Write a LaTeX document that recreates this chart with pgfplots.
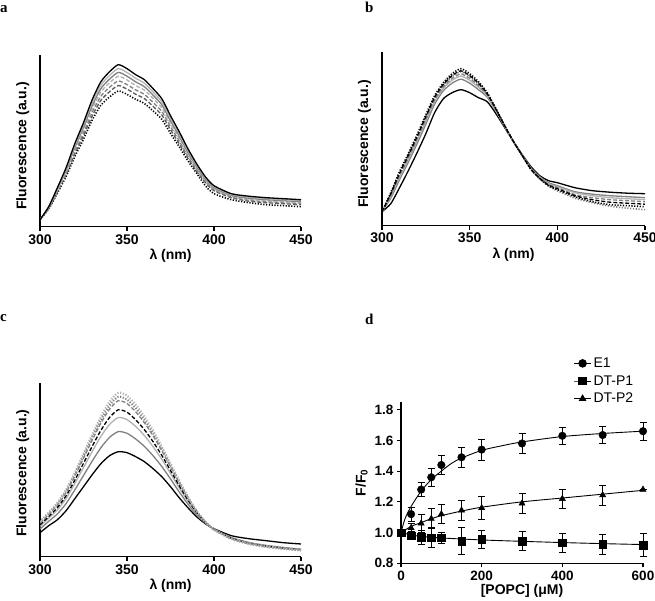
\documentclass[border=0pt]{standalone}
\usepackage{fontspec}
\setmainfont{Liberation Sans}
\newfontfamily\letterfont{Liberation Serif}
\usepackage{pgfplots}
\pgfplotsset{compat=1.18}
\usepackage{pgfplotstable}

\definecolor{lg}{gray}{0.70}
\definecolor{mg}{gray}{0.50}
\definecolor{dg}{gray}{0.35}

% spectra, heights in axis units (arbitrary)
\pgfplotstableread{
l a1 a2 a3 a4 a5 a6 a7
300 7 7 7 7 7 7 7
305 20 19.7 19.4 19 18.6 18.2 17.8
310 39 38.2 37.4 36.6 35.6 34.7 33.6
315 59 57.7 56.4 55.1 53.5 52 50.2
320 83 81.1 79.2 77.3 75 72.7 70.1
325 104 101.6 99.2 96.7 93.8 90.9 87.5
330 127 124 121 118 114.4 110.8 106.6
335 145 141.6 138.1 134.7 130.5 126.4 121.5
340 155 151.3 147.6 143.9 139.5 135 129.8
345 162 158.1 154.3 150.4 145.7 141.1 135.7
350 158 154.2 150.5 146.7 142.1 137.6 132.3
355 152 148.4 144.8 141.1 136.8 132.4 127.4
360 147 143.5 140 136.5 132.3 128.1 123.2
365 138 134.7 131.5 128.2 124.2 120.3 115.7
370 128 125 122 118.9 115.3 111.7 107.4
375 111 108.4 105.8 103.2 100.1 97 93.3
380 95 92.8 90.6 88.4 85.8 83.1 80
385 78 76.2 74.5 72.7 70.5 68.4 65.9
390 63 61.6 60.2 58.8 57.1 55.4 53.5
395 50 48.9 47.9 46.8 45.5 44.2 41
400 41 40 39 38 37 36 33
410 33 32.2 31.4 30.6 29.8 29 27
420 30.5 29.5 28.5 27.5 26.5 25.5 24
430 29 28 27 26 25 24 22
440 28 27 26 25 24 23 21
450 27 26 25 24 23 22 20
}\specA

\pgfplotstableread{
l b1 b2 b3 b4 b5 b6 b7
300 14 14 14 14 14 14 14
305 33 31.9 31.4 30.3 29.2 27.5 22
310 54 52.4 51.6 50 48.4 46 38
315 72 70.3 69.5 67.8 66 63.5 55
320 91 89.2 88.3 86.5 84.7 82 73
325 111 109.1 108.2 106.3 104.4 101.5 92
330 130 128.3 127.5 125.8 124 121.5 113
335 143 141.4 140.6 139 137.4 135 127
340 152 150.1 149.2 147.3 145.4 142.5 133
345 157 154.9 153.9 151.8 149.7 146.5 136
350 152 150.1 149.2 147.3 145.4 142.5 133
355 144 142.4 141.6 140 138.4 136 128
360 133 132.1 131.7 130.8 129.9 128.5 124
365 117 116.5 116.3 115.8 115.3 114.5 112
370 100 99.8 99.7 99.5 99.3 99 98
375 84 84 84 84 84 84 84
380 70 70.1 70.2 70.3 70.4 70.5 71
385 56 56.3 56.5 56.8 57 57.5 59
390 47 47.3 47 47.5 48 49 50
395 40 40.5 39.5 41 42 43 45
400 36 37 35 38 39 40 43
410 29 30 27.5 31 33 34 38
420 24 26 23 28 30 31.5 35
430 21 23.5 19.5 26 28 30 33.5
440 20 22.5 17.5 25 27 29 32.5
450 19 21.5 16 24 26 28 32
}\specB

\pgfplotstableread{
l c1 c2 c3 c4 c5 c6 c7
300 35 34.3 33.5 31.8 30.4 27.7 24
305 44 43.1 42.2 40.2 38.5 35.4 31
310 54 52.8 51.7 49.1 46.9 42.8 37
315 67 65.6 64.1 60.9 58.2 53.1 46
320 84 82.2 80.5 76.5 73.1 66.8 58
325 103 100.8 98.5 93.4 89.1 81.2 70
330 122 119.3 116.6 110.4 105.2 95.6 82
335 140 136.8 133.6 126.4 120.3 109 93
340 155 151.3 147.7 139.3 132.3 119.4 101
345 164 160 156 146.9 139.2 125.1 105
350 161 157.1 153.2 144.5 137.1 123.4 104
355 152 148.5 144.9 136.9 130.2 117.7 100
360 140 136.9 133.9 127 121.1 110.3 95
365 126 123.4 120.8 115 110 100.9 88
370 110 108 105.9 101.3 97.4 90.2 80
375 93 91.4 89.9 86.3 83.3 77.8 70
380 76 74.8 73.7 71.1 68.9 64.8 59
385 60 59.3 58.5 56.8 55.4 52.7 49
390 46 45.6 45.2 44.3 43.5 42 40
395 35 34.9 34.7 34.4 34.2 33.7 33
400 27 27 27.1 27.3 27.4 27.7 28
410 18 17.8 18.2 18.5 18.8 19.2 21
420 13 12.8 13.2 13.5 13.8 14.3 18
430 10 9.8 10.2 10.5 10.8 11.3 16
440 8 7.8 8.2 8.5 8.7 9.2 14
450 6.5 6.3 6.8 7 7.2 7.5 12.7
}\specC

% binding data: x, F/F0, error
\pgfplotstableread{
x y e
0 1.00 0
25 1.12 0.045
50 1.28 0.045
75 1.36 0.06
100 1.44 0.06
150 1.49 0.065
200 1.54 0.068
300 1.58 0.064
400 1.63 0.055
500 1.635 0.057
600 1.66 0.06
}\eone
\pgfplotstableread{
x y e
0 1.00 0
25 0.98 0.025
50 0.97 0.045
75 0.967 0.065
100 0.967 0.035
150 0.945 0.088
200 0.956 0.06
300 0.945 0.063
400 0.935 0.062
500 0.923 0.068
600 0.919 0.074
}\dtpone
\pgfplotstableread{
x y e
0 1.00 0
25 1.03 0.03
50 1.06 0.06
75 1.09 0.065
100 1.12 0.063
150 1.145 0.064
200 1.16 0.075
300 1.19 0.064
400 1.22 0.063
500 1.244 0.064
600 1.28 0
}\dtptwo

\pgfplotsset{
  base/.style={
    scale only axis,
    axis lines=left,
    axis line style={-, line width=1.3pt},
    tick align=outside,
    major tick length=4pt,
    tick style={black, line width=1.2pt},
    tick label style={font=\bfseries\fontsize{14}{16}\selectfont},
    label style={font=\bfseries\fontsize{14}{16}\selectfont},
    /pgf/number format/assume math mode=true,
  },
  spec/.style={
    base,
    width=261pt, height=172pt,
    xmin=300, xmax=450, ymin=0, ymax=172,
    xtick={300,350,400,450}, ytick=\empty,
    xlabel={λ (nm)},
    ylabel={Fluorescence (a.u.)},
    ylabel style={at={(axis description cs:-0.028,0.47)}, anchor=south},
    xlabel style={yshift=2pt},
    no markers,
  },
  sl/.style={line width=1.3pt, line join=round, smooth, tension=0.4},
  dsh/.style={sl, dash pattern=on 4pt off 2pt},
  dot/.style={sl, line width=1.6pt, dash pattern=on 1.2pt off 1.6pt},
}

\begin{document}
\begin{tikzpicture}
\useasboundingbox (0,0) rectangle (655pt,601pt);

% panel a
\begin{axis}[spec, at={(40pt,374.3pt)}, anchor=south west]
\addplot[dot, black] table[x=l, y=a7] {\specA};
\addplot[dsh, dg] table[x=l, y=a6] {\specA};
\addplot[dsh, mg] table[x=l, y=a5] {\specA};
\addplot[dsh, lg] table[x=l, y=a4] {\specA};
\addplot[sl, mg] table[x=l, y=a3] {\specA};
\addplot[sl, lg] table[x=l, y=a2] {\specA};
\addplot[sl, black] table[x=l, y=a1] {\specA};
\end{axis}

% panel b
\begin{axis}[spec, at={(382pt,375.3pt)}, anchor=south west, width=263pt, height=174pt, ymax=174]
\addplot[sl, black] table[x=l, y=b7] {\specB};
\addplot[sl, mg] table[x=l, y=b6] {\specB};
\addplot[sl, lg] table[x=l, y=b5] {\specB};
\addplot[dsh, mg] table[x=l, y=b4] {\specB};
\addplot[dot, mg] table[x=l, y=b3] {\specB};
\addplot[dsh, black] table[x=l, y=b2] {\specB};
\addplot[dot, black] table[x=l, y=b1] {\specB};
\end{axis}

% panel c
\begin{axis}[spec, at={(40pt,44.3pt)}, anchor=south west, height=174pt, ymax=174,
  ylabel style={at={(axis description cs:-0.028,0.48)}}]
\addplot[sl, black] table[x=l, y=c7] {\specC};
\addplot[sl, mg] table[x=l, y=c6] {\specC};
\addplot[sl, lg] table[x=l, y=c5] {\specC};
\addplot[dsh, black] table[x=l, y=c4] {\specC};
\addplot[dsh, mg] table[x=l, y=c3] {\specC};
\addplot[dot, mg, line width=2pt] table[x=l, y=c2] {\specC};
\addplot[dot, lg, line width=2.2pt] table[x=l, y=c1] {\specC};
\end{axis}

% panel d
\begin{axis}[base, at={(401pt,37.7pt)}, anchor=south west,
  width=242pt, height=161.3pt,
  xmin=0, xmax=600, ymin=0.8, ymax=1.85,
  xtick={0,200,400,600}, ytick={0.8,1.0,1.2,1.4,1.6,1.8},
  tick label style={font=\bfseries\fontsize{13.5}{15}\selectfont},
  yticklabel style={/pgf/number format/fixed, /pgf/number format/fixed zerofill, /pgf/number format/precision=1},
  xlabel={[POPC] (μM)}, ylabel={F/F\textsubscript{0}},
  xlabel style={yshift=3pt},
  legend cell align=left,
  legend style={draw=none, fill=none, at={(axis description cs:0.70,1.30)}, anchor=north west,
    font=\fontsize{14}{16}\selectfont, row sep=2.5pt},
  clip=false,
  error bars/error bar style={black, line width=0.8pt},
  error bars/error mark options={rotate=90, black, mark size=3.5pt, line width=0.8pt},
]
\addlegendimage{black, line width=0.9pt, mark=*, mark size=3.8pt}
\addlegendentry{E1}
\addlegendimage{black, line width=0.9pt, mark=square*, mark size=3.8pt}
\addlegendentry{DT-P1}
\addlegendimage{black, line width=0.9pt, mark=triangle*, mark size=3.6pt}
\addlegendentry{DT-P2}
% fitted curves
\addplot[black, line width=0.9pt, smooth, forget plot] coordinates {
 (0,1.0) (10,1.09) (25,1.17) (50,1.27) (75,1.345) (100,1.40) (125,1.45) (150,1.485)
 (200,1.535) (250,1.565) (300,1.59) (400,1.625) (500,1.645) (600,1.66)};
\addplot[black, line width=0.9pt, smooth, forget plot] coordinates {
 (0,1.0) (25,1.04) (50,1.065) (75,1.09) (100,1.11) (150,1.14) (200,1.165)
 (300,1.2) (400,1.225) (500,1.25) (600,1.275)};
\addplot[black, line width=0.9pt, smooth, forget plot] coordinates {
 (0,1.0) (25,0.985) (50,0.975) (100,0.965) (200,0.952) (300,0.943)
 (400,0.935) (500,0.928) (600,0.922)};
% measured points
\addplot[only marks, black, mark=*, mark size=3.8pt, forget plot,
  error bars/.cd, y dir=both, y explicit] table[x=x, y=y, y error=e] {\eone};
\addplot[only marks, black, mark=square*, mark size=3.8pt, forget plot,
  error bars/.cd, y dir=both, y explicit] table[x=x, y=y, y error=e] {\dtpone};
\addplot[only marks, black, mark=triangle*, mark size=3.6pt, forget plot,
  error bars/.cd, y dir=both, y explicit] table[x=x, y=y, y error=e] {\dtptwo};
\end{axis}

% panel letters
\node[anchor=base west, inner sep=0pt, font=\letterfont\bfseries\fontsize{15}{17}\selectfont] at (0pt,588pt) {a};
\node[anchor=base west, inner sep=0pt, font=\letterfont\bfseries\fontsize{15}{17}\selectfont] at (365pt,588pt) {b};
\node[anchor=base west, inner sep=0pt, font=\letterfont\bfseries\fontsize{15}{17}\selectfont] at (0pt,279.5pt) {c};
\node[anchor=base west, inner sep=0pt, font=\letterfont\bfseries\fontsize{15}{17}\selectfont] at (365pt,276pt) {d};
\end{tikzpicture}
\end{document}
